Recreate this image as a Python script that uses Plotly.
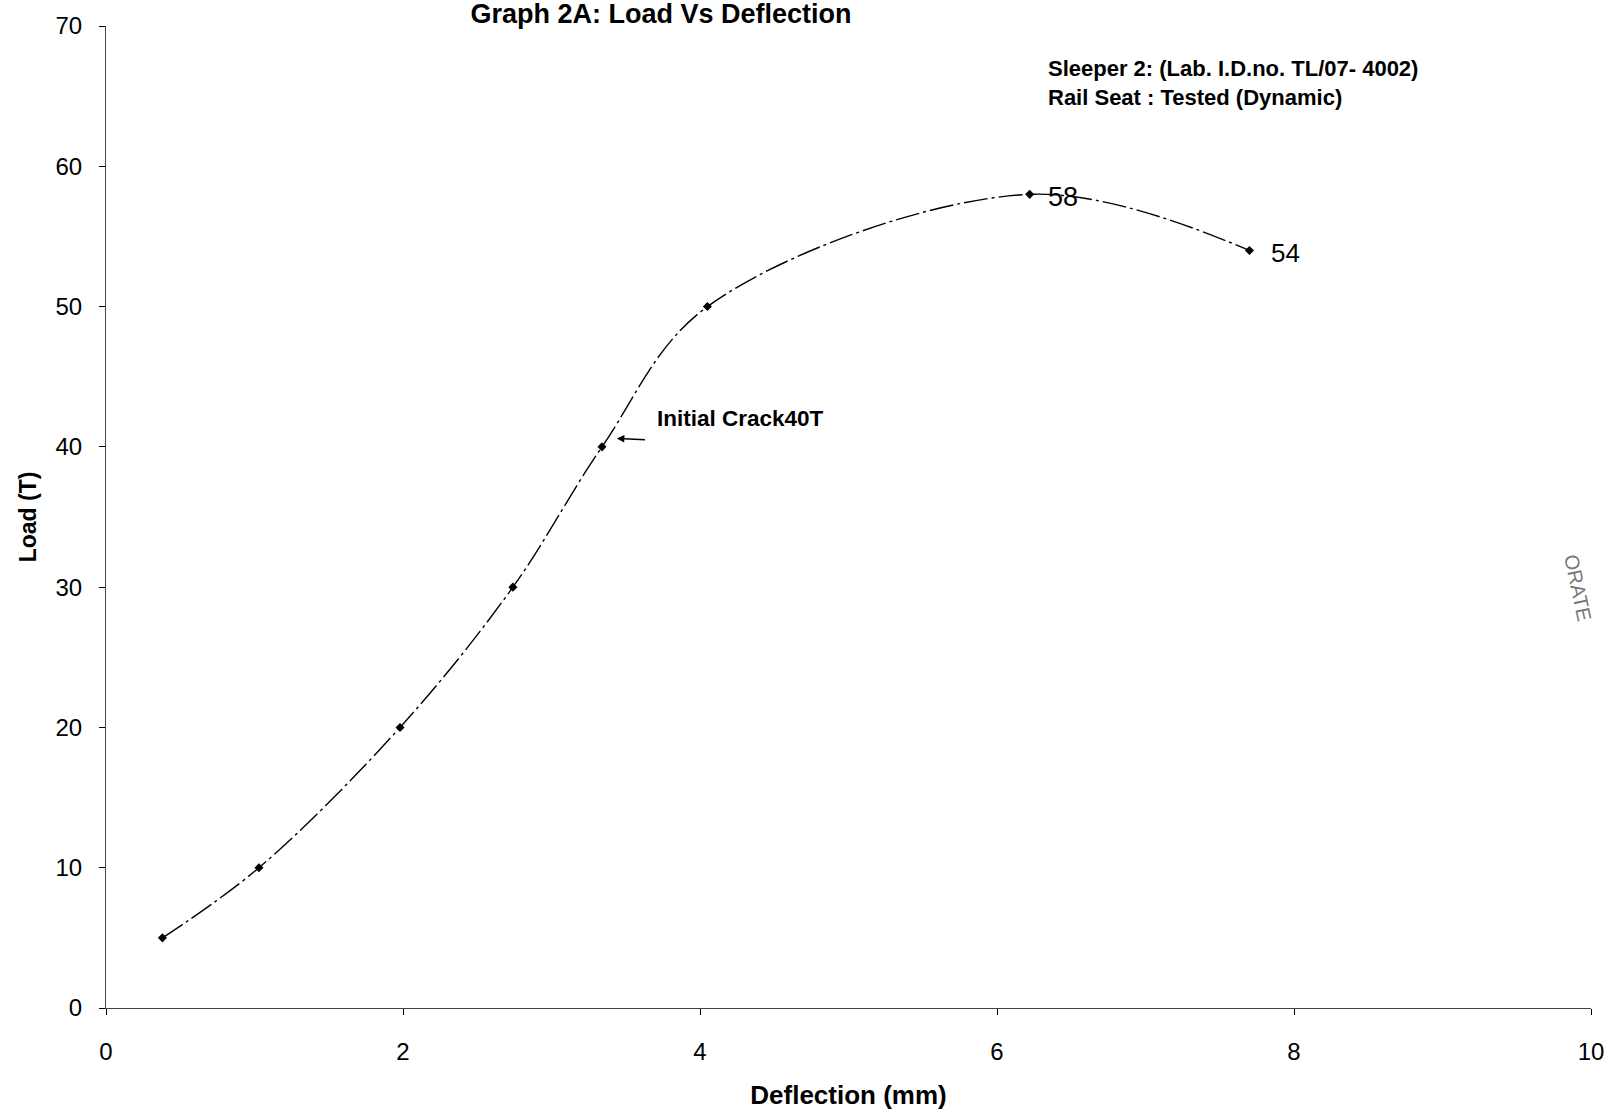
import plotly.graph_objects as go

deflection = [0.38, 1.03, 1.98, 2.74, 3.34, 4.05, 6.22, 7.70]
load = [5, 10, 20, 30, 40, 50, 58, 54]
x_ticks = [0, 2, 4, 6, 8, 10]
y_ticks = [0, 10, 20, 30, 40, 50, 60, 70]

FONT = "Liberation Sans, Arial, sans-serif"

fig = go.Figure()
fig.add_trace(go.Scatter(
    x=deflection, y=load, mode="lines+markers",
    line=dict(color="black", width=1.4, shape="spline", smoothing=1.0,
              dash="24px,4px,3px,4px"),
    marker=dict(symbol="diamond", size=7, color="black"),
    showlegend=False, hoverinfo="x+y",
))

ann = []
ann.append(dict(x=3.70, y=42.0, xref="x", yref="y", text="<b>Initial Crack40T</b>",
                showarrow=False, xanchor="left", yanchor="middle",
                font=dict(family=FONT, size=22.5, color="black")))
ann.append(dict(x=3.44, y=40.6, ax=3.64, ay=40.5, xref="x", yref="y", axref="x", ayref="y",
                text="", showarrow=True, arrowhead=2, arrowsize=1, arrowwidth=1.5,
                arrowcolor="black"))
ann.append(dict(x=6.33, y=57.8, xref="x", yref="y", text="58",
                showarrow=False, xanchor="left", yanchor="middle",
                font=dict(family=FONT, size=27, color="black")))
ann.append(dict(x=7.83, y=53.8, xref="x", yref="y", text="54",
                showarrow=False, xanchor="left", yanchor="middle",
                font=dict(family=FONT, size=26, color="black")))
ann.append(dict(x=6.33, y=66.95, xref="x", yref="y",
                text="<b>Sleeper 2: (Lab. I.D.no. TL/07- 4002)</b>",
                showarrow=False, xanchor="left", yanchor="middle",
                font=dict(family=FONT, size=22, color="black")))
ann.append(dict(x=6.33, y=64.9, xref="x", yref="y",
                text="<b>Rail Seat : Tested (Dynamic)</b>",
                showarrow=False, xanchor="left", yanchor="middle",
                font=dict(family=FONT, size=22, color="black")))

fig.update_layout(
    width=1616, height=1117,
    margin=dict(l=106, r=23, t=21, b=107),
    paper_bgcolor="white", plot_bgcolor="white",
    font=dict(family=FONT, size=24, color="black"),
    title=dict(text="<b>Graph 2A: Load Vs Deflection</b>",
               x=661/1616, y=1-14/1117, xref="container", yref="container",
               xanchor="center", yanchor="middle",
               font=dict(family=FONT, size=27, color="black")),
    annotations=ann,
)
fig.add_annotation(x=1600/1616, y=1-587/1117, xref="paper", yref="paper",
                   text="ORATE", textangle=78, showarrow=False,
                   font=dict(family=FONT, size=20, color="#777"))
# place stamp text in container coordinates
fig.layout.annotations[-1].update(xref="paper", yref="paper",
                                  x=(1600-106)/(1616-106-23), y=(1010-587)/(1010-21))

fig.update_xaxes(
    range=[0, 10], tickvals=x_ticks, ticktext=[str(v) for v in x_ticks],
    showgrid=False, zeroline=False, showline=True, linecolor="#444", linewidth=1,
    ticks="outside", ticklen=6, tickcolor="black", ticklabelstandoff=16,
    title=dict(text="<b>Deflection (mm)</b>", standoff=22,
               font=dict(family=FONT, size=26)),
    tickfont=dict(family=FONT, size=24),
)
fig.update_yaxes(
    range=[0, 70], tickvals=y_ticks, ticktext=[str(v) for v in y_ticks],
    showgrid=False, zeroline=False, showline=True, linecolor="#444", linewidth=1,
    ticks="outside", ticklen=6, tickcolor="black", ticklabelstandoff=12,
    title=dict(text="<b>Load (T)</b>", standoff=12,
               font=dict(family=FONT, size=23)),
    tickfont=dict(family=FONT, size=24),
)

fig.write_html("out.html")
